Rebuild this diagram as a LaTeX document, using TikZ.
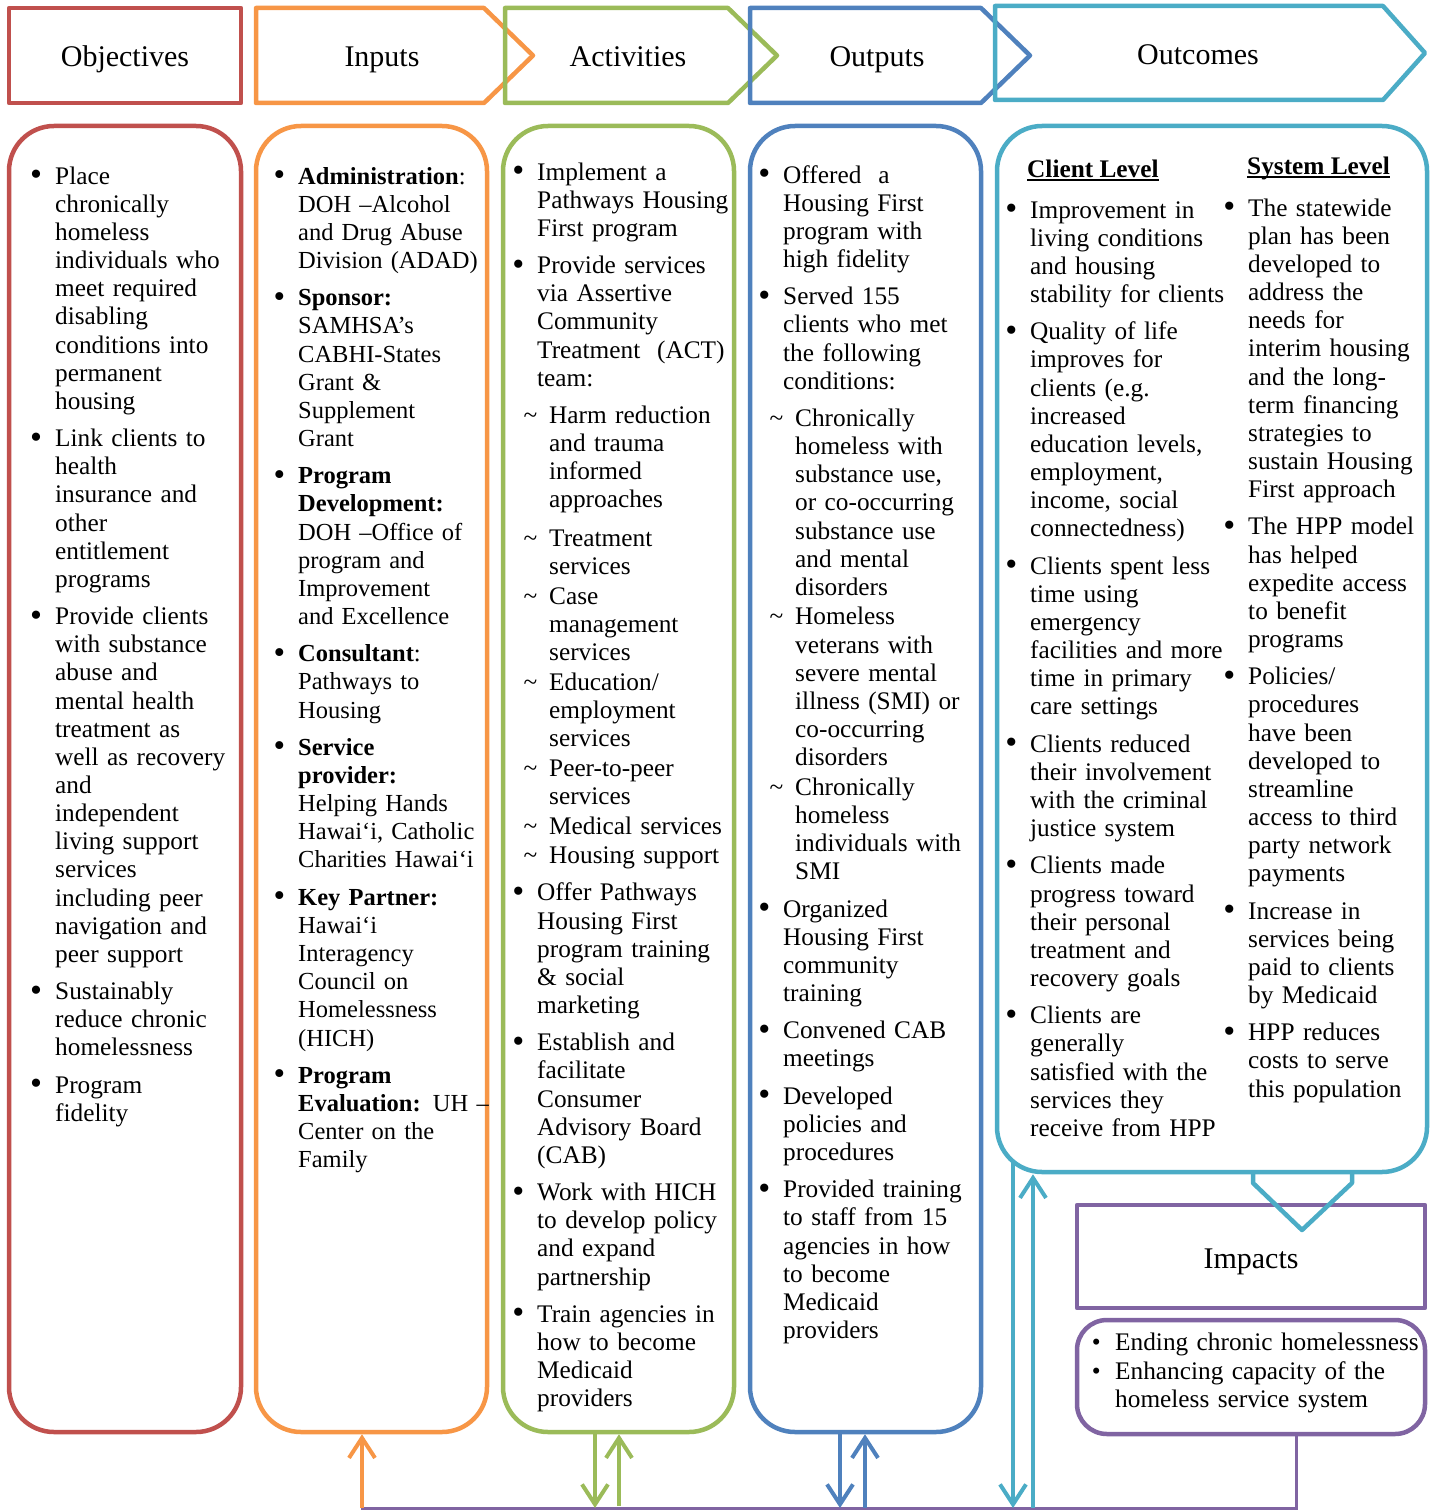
\documentclass[tikz,border=0pt]{standalone}
\usepackage{fontspec}
\setmainfont{Liberation Serif}
\usepackage{xcolor}
\usepackage{enumitem}
\usepackage{tikz}
\usetikzlibrary{arrows.meta,backgrounds,calc}

\definecolor{objred}{HTML}{C0504D}
\definecolor{inorange}{HTML}{F79646}
\definecolor{actgreen}{HTML}{9BBB59}
\definecolor{outblue}{HTML}{4F81BD}
\definecolor{octeal}{HTML}{4BACC6}
\definecolor{imppurple}{HTML}{8064A2}

\newcommand{\colfont}{\fontsize{25.3pt}{28.15pt}\selectfont}
\newcommand{\infont}{\fontsize{24.5pt}{28.15pt}\selectfont}
\newcommand{\hdfont}{\fontsize{30pt}{34pt}\selectfont}
\newcommand{\ulbf}[1]{\setbox0\hbox{\textbf{#1}}\rlap{\rule[-3pt]{\wd0}{2pt}}\box0}
\newcommand{\bigdot}{\raisebox{-1.5pt}{\scalebox{1.35}{\textbullet}}}

\setlist[itemize,1]{label=\bigdot, leftmargin=20pt, labelsep=13pt, itemsep=9.1pt, parsep=0pt, topsep=0pt, partopsep=0pt}
\setlist[itemize,2]{label=\textasciitilde, leftmargin=12pt, labelsep=12pt, itemsep=1.5pt, parsep=0pt, topsep=9pt, partopsep=0pt}

\begin{document}
\begin{tikzpicture}[x=1pt, y=-1pt,
  hdr/.style={line width=4.5pt, line join=round},
  hdtext/.style={font=\hdfont, anchor=base, inner sep=0pt},
  body/.style={draw, line width=4.5pt, rounded corners=45pt, fill=white, inner sep=0pt},
  coltext/.style={font=\colfont, text width=360pt, anchor=base west, inner sep=0pt},
  arr/.style={line width=4pt, -{Straight Barb[length=20pt,width=26pt]}}]
\useasboundingbox (0,0) rectangle (1436,1511);

\draw[hdr, objred] (9,8) rectangle (241,103);
\draw[hdr, inorange] (256,8) -- (484,8) -- (533,55.5) -- (484,103) -- (256,103) -- cycle;
\draw[hdr, actgreen] (505,8) -- (728,8) -- (777,55.5) -- (728,103) -- (505,103) -- cycle;
\draw[hdr, outblue] (750,8) -- (981,8) -- (1030,55.5) -- (981,103) -- (750,103) -- cycle;
\draw[hdr, octeal] (995,6) -- (1383,6) -- (1425,53) -- (1383,100) -- (995,100) -- cycle;
\node[hdtext] (objH) at (125,67) {Objectives};
\node[hdtext] (inH) at (382,67) {Inputs};
\node[hdtext] (actH) at (628,67) {Activities};
\node[hdtext] (outH) at (877,67) {Outputs};
\node[hdtext] (ocH) at (1198,65) {Outcomes};

\node[body, draw=objred, minimum width=232pt, minimum height=1306pt] (objB) at (125,779) {};
\node[body, draw=inorange, minimum width=231pt, minimum height=1306pt] (inB) at (371.5,779) {};
\node[body, draw=actgreen, minimum width=231pt, minimum height=1306pt] (actB) at (618.5,779) {};
\node[body, draw=outblue, minimum width=231pt, minimum height=1306pt] (outB) at (865.5,779) {};
\node[body, draw=octeal, minimum width=430pt, minimum height=1046pt] (ocB) at (1212,649) {};

\draw[hdr, imppurple] (1077,1205) rectangle (1425,1308);
\node[hdtext] (impH) at (1251,1268) {Impacts};
\node[body, draw=imppurple, rounded corners=30pt, minimum width=348pt, minimum height=114pt] (impB) at (1251,1377) {};
\draw[hdr, octeal] (1253,1172) -- (1253,1183) -- (1302,1230) -- (1352,1183) -- (1352,1172);

\node[coltext] (objT) at (35,156) {\begin{itemize}
\item Place\\ chronically\\ homeless\\ individuals who\\ meet required\\ disabling\\ conditions into\\ permanent\\ housing
\item Link clients to\\ health\\ insurance and\\ other\\ entitlement\\ programs
\item Provide clients\\ with substance\\ abuse and\\ mental health\\ treatment as\\ well as recovery\\ and\\ independent\\ living support\\ services\\ including peer\\ navigation and\\ peer support
\item Sustainably\\ reduce chronic\\ homelessness
\item Program\\ fidelity
\end{itemize}};

\node[coltext, font=\infont] (inT) at (278,156) {\begin{itemize}
\item \textbf{Administration}:\\ DOH –Alcohol\\ and Drug Abuse\\ Division (ADAD)
\item \textbf{Sponsor:}\\ SAMHSA’s\\ CABHI-States\\ Grant \&\\ Supplement\\ Grant
\item \textbf{Program\\ Development:}\\ DOH –Office of\\ program and\\ Improvement\\ and Excellence
\item \textbf{Consultant}:\\ Pathways to\\ Housing
\item \textbf{Service\\ provider:}\\ Helping Hands\\ Hawai‘i, Catholic\\ Charities Hawai‘i
\item \textbf{Key Partner:}\\ Hawai‘i\\ Interagency\\ Council on\\ Homelessness\\ (HICH)
\item \textbf{Program\\ Evaluation:} UH –\\ Center on the\\ Family
\end{itemize}};

\node[coltext] (actT) at (517,152) {\begin{itemize}
\item Implement a\\ Pathways Housing\\ First program
\item Provide services\\ via Assertive\\ Community\\ Treatment\ \ (ACT)\\ team:
  \begin{itemize}
  \item Harm reduction\\ and trauma\\ informed\\ approaches\par\vspace{9pt}
  \item Treatment\\ services
  \item Case\\ management\\ services
  \item Education/\\ employment\\ services
  \item Peer-to-peer\\ services
  \item Medical services
  \item Housing support
  \end{itemize}
\item Offer Pathways\\ Housing First\\ program training\\ \& social\\ marketing
\item Establish and\\ facilitate\\ Consumer\\ Advisory Board\\ (CAB)
\item Work with HICH\\ to develop policy\\ and expand\\ partnership
\item Train agencies in\\ how to become\\ Medicaid\\ providers
\end{itemize}};

\node[coltext] (outT) at (763,155) {\begin{itemize}
\item Offered\ \ a\\ Housing First\\ program with\\ high fidelity
\item Served 155\\ clients who met\\ the following\\ conditions:
  \begin{itemize}
  \item Chronically\\ homeless with\\ substance use,\\ or co-occurring\\ substance use\\ and mental\\ disorders
  \item Homeless\\ veterans with\\ severe mental\\ illness (SMI) or\\ co-occurring\\ disorders
  \item Chronically\\ homeless\\ individuals with\\ SMI
  \end{itemize}
\item Organized\\ Housing First\\ community\\ training
\item Convened CAB\\ meetings
\item Developed\\ policies and\\ procedures
\item Provided training\\ to staff from 15\\ agencies in how\\ to become\\ Medicaid\\ providers
\end{itemize}};

\node[font=\colfont, anchor=base west, inner sep=0pt] (clH) at (1027,178) {\ulbf{Client Level}};
\node[coltext] (clT) at (1010,190) {\begin{itemize}
\item Improvement in\\ living conditions\\ and housing\\ stability for clients
\item Quality of life\\ improves for\\ clients (e.g.\\ increased\\ education levels,\\ employment,\\ income, social\\ connectedness)
\item Clients spent less\\ time using\\ emergency\\ facilities and more\\ time in primary\\ care settings
\item Clients reduced\\ their involvement\\ with the criminal\\ justice system
\item Clients made\\ progress toward\\ their personal\\ treatment and\\ recovery goals
\item Clients are\\ generally\\ satisfied with the\\ services they\\ receive from HPP
\end{itemize}};

\node[font=\colfont, anchor=base west, inner sep=0pt] (syH) at (1247,175) {\ulbf{System Level}};
\node[coltext] (syT) at (1228,188) {\begin{itemize}
\item The statewide\\ plan has been\\ developed to\\ address the\\ needs for\\ interim housing\\ and the long-\\ term financing\\ strategies to\\ sustain Housing\\ First approach
\item The HPP model\\ has helped\\ expedite access\\ to benefit\\ programs
\item Policies/\\ procedures\\ have been\\ developed to\\ streamline\\ access to third\\ party network\\ payments
\item Increase in\\ services being\\ paid to clients\\ by Medicaid
\item HPP reduces\\ costs to serve\\ this population
\end{itemize}};

\node[coltext] (impT) at (1095,1322) {\begin{itemize}[itemsep=1.5pt, label=\textbullet, labelsep=14.5pt]
\item Ending chronic homelessness
\item Enhancing capacity of the\\ homeless service system
\end{itemize}};

\begin{scope}[on background layer]
\coordinate (bL) at (361,1508);
\coordinate (bR) at (1296,1508);
\coordinate (aIn) at (362,1508);
\coordinate (aActD) at (595,1508);
\coordinate (aActU) at (619,1508);
\coordinate (aOutD) at (840,1508);
\coordinate (aOutU) at (865,1508);
\coordinate (aOcD) at (1013,1508);
\coordinate (aOcU) at (1033,1508);
\draw[imppurple, line width=3pt] (impB.south -| bR) -- (bR) -- (bL);
\draw[arr, inorange] (aIn) -- (aIn |- inB.south);
\draw[arr, actgreen] (aActD |- actB.south) -- (aActD);
\draw[arr, actgreen] ([yshift=2pt]aActU) -- (aActU |- actB.south);
\draw[arr, outblue] (aOutD |- outB.south) -- (aOutD);
\draw[arr, outblue] (aOutU) -- (aOutU |- outB.south);
\draw[arr, octeal] ($(aOcD |- ocB.south)+(0,-30)$) -- (aOcD);
\draw[arr, octeal] (aOcU) -- (aOcU |- ocB.south);
\end{scope}
\end{tikzpicture}
\end{document}
